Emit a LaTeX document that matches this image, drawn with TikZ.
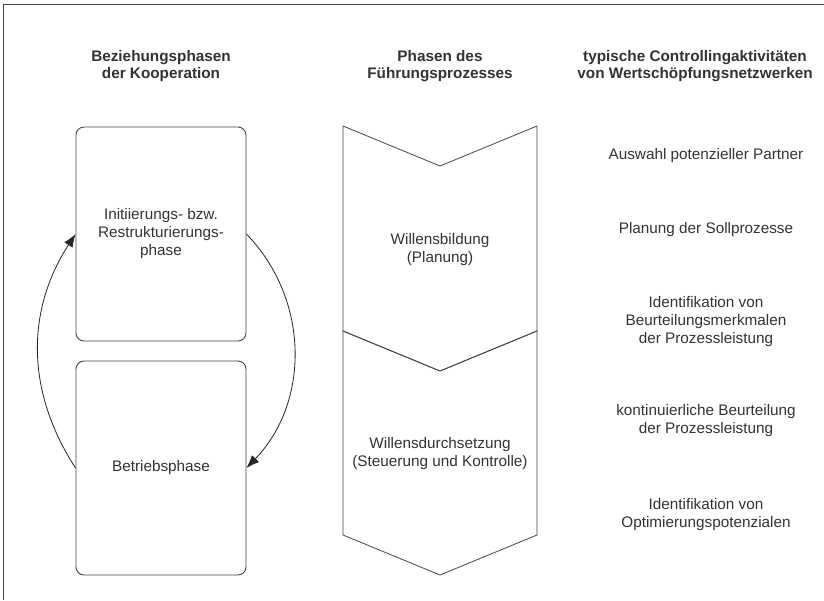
\documentclass[tikz,border=0pt]{standalone}
\usepackage{fontspec}
\setmainfont{Liberation Sans}
\usetikzlibrary{arrows.meta}
\definecolor{ink}{HTML}{333333}
\definecolor{rule}{HTML}{444444}
\begin{document}
\begin{tikzpicture}[x=1pt,y=-1pt,
  every node/.style={text=ink,font=\fontsize{15.3}{18}\selectfont,align=center,inner sep=0pt},
  head/.style={font=\fontsize{15.3}{17.5}\selectfont\bfseries},
  phasebox/.style={draw=rule,line width=0.9pt,rounded corners=8pt,minimum width=170pt,minimum height=214pt},
  chevron/.style={draw=rule,line width=0.8pt},
  cycle arrow/.style={draw=black!85,line width=0.8pt,-{Latex[length=13pt,width=10pt]}}]
\useasboundingbox (0,0) rectangle (824,600);

% open frame: top and left edges only
\draw[rule,line width=0.9pt] (3,600) -- (3,4) -- (824,4);

% column headings
\node[head] (h1) at (161,66) {Beziehungsphasen\\der Kooperation};
\node[head] (h2) at (440,66) {Phasen des\\Führungsprozesses};
\node[head] (h3) at (695,66) {typische Controllingaktivitäten\\von Wertschöpfungsnetzwerken};

% relationship phases
\node[phasebox] (init) at (161,234) {Initiierungs- bzw.\\Restrukturierungs-\\phase};
\node[phasebox] (betr) at (161,468) {Betriebsphase};
\draw[cycle arrow] (init.east) to[bend left=44] (betr.east);
\draw[cycle arrow] (betr.west) to[bend left=33] (init.west);

% management process phases as chevrons
\draw[chevron] (343,126) -- (440,166) -- (537,126) -- (537,331) -- (440,371) -- (343,331) -- cycle;
\draw[chevron] (343,331) -- (440,371) -- (537,331) -- (537,535) -- (440,575) -- (343,535) -- cycle;
\node (wb) at (440,250) {Willensbildung\\(Planung)};
\node (wd) at (440,454) {Willensdurchsetzung\\(Steuerung und Kontrolle)};

% controlling activities
\node (a1) at (706,156) {Auswahl potenzieller Partner};
\node (a2) at (706,230) {Planung der Sollprozesse};
\node (a3) at (706,322) {Identifikation von\\Beurteilungsmerkmalen\\der Prozessleistung};
\node (a4) at (706,421) {kontinuierliche Beurteilung\\der Prozessleistung};
\node (a5) at (706,515) {Identifikation von\\Optimierungspotenzialen};
\end{tikzpicture}
\end{document}
